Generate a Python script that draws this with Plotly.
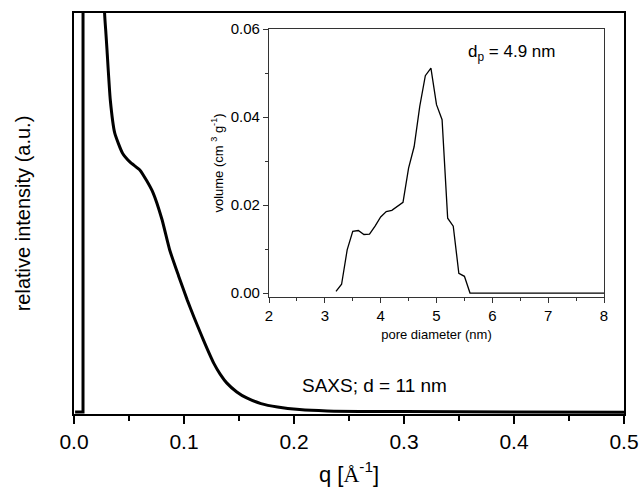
import plotly.graph_objects as go

# Main SAXS curve (q in 1/Angstrom, intensity in arbitrary units)
spike_q = [0.001, 0.0082, 0.0083]
spike_i = [0.5, 0.5, 1000]

saxs_q = [0.027, 0.0278, 0.029, 0.030, 0.033, 0.037, 0.044, 0.051, 0.060, 0.066, 0.072,
          0.080, 0.087, 0.095, 0.103, 0.109, 0.115, 0.121, 0.127, 0.133, 0.139, 0.148,
          0.157, 0.170, 0.185, 0.205, 0.23, 0.26, 0.30, 0.40, 0.50]
saxs_i = [130, 100, 95, 90.8, 78.3, 70.1, 65.1, 62.8, 60.8, 58.2, 55.1,
          48.5, 40.9, 34.5, 28.4, 24.2, 20.2, 16.3, 12.7, 9.9, 7.7, 5.5,
          4.0, 2.6, 1.75, 1.1, 0.75, 0.65, 0.6, 0.5, 0.45]

# Inset: pore size distribution
pore_d = [3.2, 3.3, 3.4, 3.5, 3.6, 3.7, 3.8, 3.9, 4.0, 4.1, 4.2, 4.3, 4.4, 4.5,
          4.6, 4.7, 4.8, 4.9, 5.0, 5.1, 5.2, 5.3, 5.4, 5.5, 5.6, 6.0, 7.0, 8.0]
pore_v = [0.0004, 0.002, 0.0098, 0.0140, 0.0142, 0.0133, 0.0134, 0.0152, 0.0173,
          0.0185, 0.0188, 0.0197, 0.0206, 0.0284, 0.0333, 0.0424, 0.0494, 0.0511,
          0.0428, 0.0394, 0.0170, 0.0152, 0.0045, 0.0038, 0.0, 0.0, 0.0, 0.0]

FONT = "Liberation Sans, Arial, sans-serif"
W, H = 643, 492


def px_x(p):
    return p / W


def px_y(p):
    return (H - p) / H


fig = go.Figure()
fig.add_trace(go.Scatter(x=spike_q, y=spike_i, mode="lines",
                         line=dict(color="black", width=3), showlegend=False))
fig.add_trace(go.Scatter(x=saxs_q, y=saxs_i, mode="lines",
                         line=dict(color="black", width=3, shape="spline", smoothing=0.5),
                         showlegend=False))
fig.add_trace(go.Scatter(x=pore_d, y=pore_v, mode="lines", xaxis="x2", yaxis="y2",
                         line=dict(color="black", width=1.3), showlegend=False))

fig.update_layout(
    width=W, height=H,
    margin=dict(l=0, r=0, t=0, b=0),
    paper_bgcolor="white", plot_bgcolor="white",
    font=dict(family=FONT, color="black"),
    xaxis=dict(domain=[px_x(74), px_x(624)], range=[0, 0.5], dtick=0.1, tickformat=".1f",
               automargin=False,
               ticks="outside", ticklen=8, tickwidth=1.5, tickcolor="black",
               minor=dict(dtick=0.05, ticks="outside", ticklen=5, tickwidth=1.5, tickcolor="black"),
               showline=True, linewidth=2, linecolor="black", mirror=True,
               showgrid=False, zeroline=False,
               tickfont=dict(size=21),
               title=dict(text="q [<span style='font-family:Liberation Serif'>Å</span><sup>-1</sup>]",
                          font=dict(size=22), standoff=14)),
    yaxis=dict(domain=[px_y(414), px_y(13)], range=[0, 100],
               automargin=False,
               showticklabels=False, ticks="",
               showline=True, linewidth=2, linecolor="black", mirror=True,
               showgrid=False, zeroline=False,
               title=dict(text="relative intensity (a.u.)", font=dict(size=20), standoff=36)),
    xaxis2=dict(domain=[px_x(269), px_x(604)], anchor="y2", range=[2, 8], dtick=1,
                automargin=False,
                ticks="outside", ticklen=5, tickcolor="#333", tickwidth=1,
                minor=dict(dtick=0.5, ticks="outside", ticklen=3, tickcolor="#333"),
                showline=True, linewidth=1.2, linecolor="#333", mirror=True,
                showgrid=False, zeroline=False, tickfont=dict(size=15),
                title=dict(text="pore diameter (nm)", font=dict(size=13), standoff=6)),
    yaxis2=dict(domain=[px_y(297), px_y(29)], anchor="x2", range=[-0.0009, 0.06],
                dtick=0.02, tickformat=".2f",
                automargin=False,
                ticks="outside", ticklen=5, tickcolor="#333", tickwidth=1,
                minor=dict(dtick=0.01, ticks="outside", ticklen=3, tickcolor="#333"),
                showline=True, linewidth=1.2, linecolor="#333", mirror=True,
                showgrid=False, zeroline=False, tickfont=dict(size=15),
                title=dict(text="volume (cm <sup>3</sup> g<sup>-1</sup>)", font=dict(size=13), standoff=4)),
    annotations=[
        dict(text="d<sub>p</sub> = 4.9 nm", xref="x2", yref="y2", x=6.35, y=0.0545,
             xanchor="center", yanchor="middle", showarrow=False, font=dict(size=17)),
        dict(text="SAXS; d = 11 nm", xref="x", yref="y", x=0.273, y=7.0,
             xanchor="center", yanchor="middle", showarrow=False, font=dict(size=19)),
    ],
)

fig.write_html("out.html",
               config={"displayModeBar": False},
               post_script="document.body.style.margin='0';document.body.style.overflow='hidden';")
